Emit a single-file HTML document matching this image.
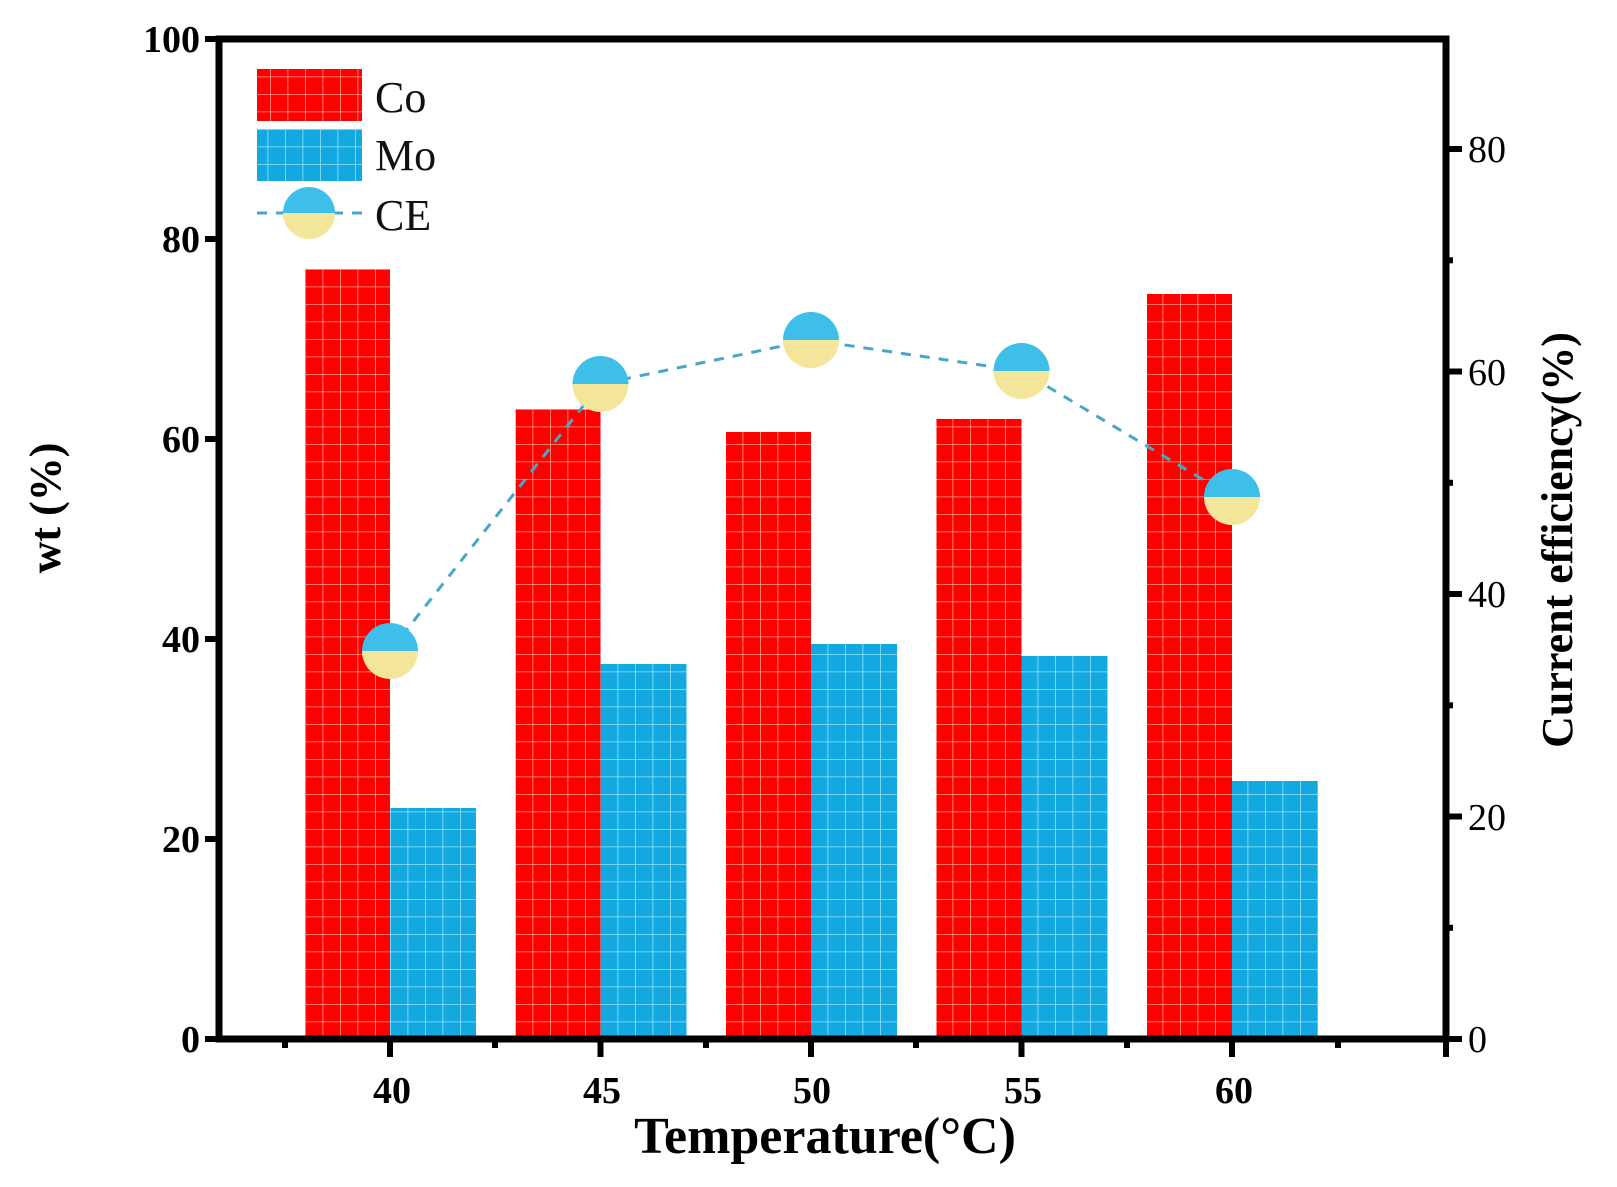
<!DOCTYPE html>
<html><head><meta charset="utf-8"><style>
html,body{margin:0;padding:0;background:#fff;}
svg{display:block;font-family:"Liberation Serif",serif;}
</style></head><body>
<svg width="1617" height="1187" viewBox="0 0 1617 1187" xmlns="http://www.w3.org/2000/svg">
<defs>
<pattern id="gr" width="17.5" height="17.5" patternUnits="userSpaceOnUse" x="305" y="1039">
<rect width="17.5" height="17.5" fill="#ff0000"/>
<path d="M0 0H17.5M0 0V17.5" stroke="#ff9c8c" stroke-width="1.6"/>
</pattern>
<pattern id="gb" width="17.5" height="17.5" patternUnits="userSpaceOnUse" x="390" y="1039">
<rect width="17.5" height="17.5" fill="#14a8e0"/>
<path d="M0 0H17.5M0 0V17.5" stroke="#90e4fa" stroke-width="1.6"/>
</pattern>
</defs>
<g>
<rect x="305" y="269" width="85" height="770" fill="url(#gr)"/>
<rect x="390" y="808" width="86" height="231" fill="url(#gb)"/>
<rect x="515.5" y="409" width="85" height="630" fill="url(#gr)"/>
<rect x="600.5" y="664" width="86" height="375" fill="url(#gb)"/>
<rect x="726" y="432" width="85" height="607" fill="url(#gr)"/>
<rect x="811" y="644" width="86" height="395" fill="url(#gb)"/>
<rect x="936.5" y="419" width="85" height="620" fill="url(#gr)"/>
<rect x="1021.5" y="656" width="86" height="383" fill="url(#gb)"/>
<rect x="1147" y="294" width="85" height="745" fill="url(#gr)"/>
<rect x="1232" y="781" width="86" height="258" fill="url(#gb)"/>
</g>
<polyline points="390,651 600.5,384 811,340 1021.5,371 1232,497" fill="none" stroke="#4aa6c6" stroke-width="3" stroke-dasharray="10,9"/>
<g>
<path d="M362,651 a28,28 0 0 1 56,0z" fill="#3dbfea"/><path d="M362,651 a28,28 0 0 0 56,0z" fill="#f3e69a"/>
<path d="M572.5,384 a28,28 0 0 1 56,0z" fill="#3dbfea"/><path d="M572.5,384 a28,28 0 0 0 56,0z" fill="#f3e69a"/>
<path d="M783,340 a28,28 0 0 1 56,0z" fill="#3dbfea"/><path d="M783,340 a28,28 0 0 0 56,0z" fill="#f3e69a"/>
<path d="M993.5,371 a28,28 0 0 1 56,0z" fill="#3dbfea"/><path d="M993.5,371 a28,28 0 0 0 56,0z" fill="#f3e69a"/>
<path d="M1204,497 a28,28 0 0 1 56,0z" fill="#3dbfea"/><path d="M1204,497 a28,28 0 0 0 56,0z" fill="#f3e69a"/>
</g>
<rect x="219" y="39" width="1227" height="1000" fill="none" stroke="#000" stroke-width="7"/>
<g stroke="#000" stroke-width="6">
<line x1="205" y1="39" x2="219" y2="39"/><line x1="205" y1="239" x2="219" y2="239"/>
<line x1="205" y1="439" x2="219" y2="439"/><line x1="205" y1="639" x2="219" y2="639"/>
<line x1="205" y1="839" x2="219" y2="839"/><line x1="205" y1="1039" x2="219" y2="1039"/>
<line x1="1446" y1="1039" x2="1462" y2="1039"/><line x1="1446" y1="816.5" x2="1462" y2="816.5"/>
<line x1="1446" y1="594" x2="1462" y2="594"/><line x1="1446" y1="371.5" x2="1462" y2="371.5"/>
<line x1="1446" y1="149" x2="1462" y2="149"/>
<line x1="1446" y1="927.8" x2="1453" y2="927.8"/><line x1="1446" y1="705.3" x2="1453" y2="705.3"/>
<line x1="1446" y1="482.8" x2="1453" y2="482.8"/><line x1="1446" y1="260.3" x2="1453" y2="260.3"/>
<line x1="390" y1="1039" x2="390" y2="1057"/><line x1="600.5" y1="1039" x2="600.5" y2="1057"/>
<line x1="811" y1="1039" x2="811" y2="1057"/><line x1="1021.5" y1="1039" x2="1021.5" y2="1057"/>
<line x1="1232" y1="1039" x2="1232" y2="1057"/><line x1="1446" y1="1039" x2="1446" y2="1057"/>
<line x1="285" y1="1039" x2="285" y2="1048"/><line x1="495" y1="1039" x2="495" y2="1048"/>
<line x1="706" y1="1039" x2="706" y2="1048"/><line x1="916" y1="1039" x2="916" y2="1048"/>
<line x1="1127" y1="1039" x2="1127" y2="1048"/><line x1="1338" y1="1039" x2="1338" y2="1048"/>
</g>
<g font-weight="bold" font-size="38" fill="#000">
<g text-anchor="end">
<text x="200" y="52">100</text><text x="200" y="252">80</text><text x="200" y="452">60</text>
<text x="200" y="652">40</text><text x="200" y="852">20</text><text x="200" y="1052">0</text>
</g>
<g text-anchor="start" font-weight="normal">
<text x="1468" y="1052">0</text><text x="1468" y="830">20</text><text x="1468" y="607">40</text>
<text x="1468" y="385">60</text><text x="1468" y="162">80</text>
</g>
<g text-anchor="middle">
<text x="392" y="1103">40</text><text x="602" y="1103">45</text><text x="812" y="1103">50</text>
<text x="1023" y="1103">55</text><text x="1234" y="1103">60</text>
</g>
<text x="825" y="1153" font-size="52" text-anchor="middle">Temperature(°C)</text>
<text transform="translate(60,508) rotate(-90)" font-size="44" text-anchor="middle">wt (%)</text>
<text transform="translate(1572,540) rotate(-90)" font-size="44" text-anchor="middle">Current efficiency(%)</text>
</g>
<rect x="257" y="69" width="105" height="52" fill="url(#gr)"/>
<rect x="257" y="129" width="105" height="52" fill="url(#gb)"/>
<line x1="257" y1="213" x2="362" y2="213" stroke="#4aa6c6" stroke-width="3" stroke-dasharray="10,9"/>
<path d="M283,213 a26,26 0 0 1 52,0z" fill="#3dbfea"/><path d="M283,213 a26,26 0 0 0 52,0z" fill="#f3e69a"/>
<g font-size="44" fill="#111">
<text x="375" y="112">Co</text><text x="375" y="170">Mo</text><text x="375" y="230">CE</text>
</g>
</svg>
</body></html>
